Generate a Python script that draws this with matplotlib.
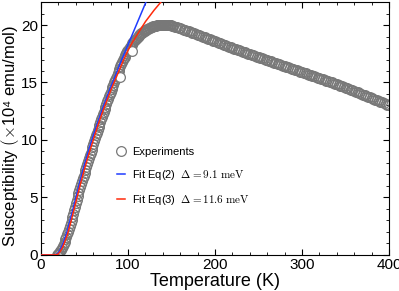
import matplotlib
matplotlib.use("Agg")
import matplotlib.pyplot as plt
from matplotlib.ticker import MultipleLocator

plt.rcParams['font.family'] = ['Liberation Sans', 'DejaVu Sans']
plt.rcParams['mathtext.fontset'] = 'cm'

# Experimental data: temperature grid (K) and susceptibility (x1e4 emu/mol)
T_exp = list(range(18, 150)) + list(range(150, 401, 2))
chi_exp = [
    0.0, 0.05, 0.1, 0.2, 0.3, 0.45, 0.6, 0.75, 0.95, 1.15,
    1.35, 1.55, 1.8, 2.0, 2.25, 2.5, 2.75, 3.0, 3.3, 3.6,
    3.9, 4.2, 4.5, 4.8, 5.1, 5.4, 5.65, 5.9, 6.15, 6.4,
    6.65, 6.9, 7.15, 7.4, 7.65, 7.9, 8.15, 8.4, 8.65, 8.9,
    9.15, 9.4, 9.65, 9.9, 10.15, 10.4, 10.6, 10.85, 11.1, 11.3,
    11.55, 11.8, 12.0, 12.25, 12.45, 12.7, 12.9, 13.1, 13.35, 13.55,
    13.8, 14.0, 14.2, 14.4, 14.6, 14.8, 15.0, 15.2, 15.4, 15.6,
    15.8, 16.0, 16.2, 16.4, 16.6, 16.8, 16.95, 17.1, 17.25, 17.4,
    17.55, 17.7, 17.8, 17.95, 18.05, 18.2, 18.3, 18.4, 18.5, 18.6,
    18.7, 18.8, 18.9, 18.98, 19.05, 19.13, 19.2, 19.27, 19.33, 19.39,
    19.45, 19.5, 19.55, 19.6, 19.65, 19.69, 19.72, 19.76, 19.8, 19.83,
    19.85, 19.88, 19.9, 19.92, 19.94, 19.96, 19.97, 19.98, 19.99, 20.0,
    20.0, 20.0, 20.0, 20.0, 20.0, 20.0, 20.0, 19.99, 19.98, 19.98,
    19.97, 19.96,
    # 150 .. 400 step 2
    19.95, 19.91, 19.86, 19.81, 19.77,
    19.72, 19.66, 19.61, 19.55, 19.5,
    19.44, 19.38, 19.33, 19.27, 19.22,
    19.16, 19.1, 19.05, 18.99, 18.94,
    18.88, 18.82, 18.76, 18.7, 18.65,
    18.59, 18.53, 18.47, 18.41, 18.36,
    18.3, 18.24, 18.18, 18.12, 18.07,
    18.01, 17.95, 17.9, 17.84, 17.79,
    17.73, 17.68, 17.62, 17.57, 17.51,
    17.46, 17.41, 17.36, 17.3, 17.25,
    17.2, 17.15, 17.1, 17.04, 16.99,
    16.94, 16.89, 16.84, 16.78, 16.73,
    16.68, 16.63, 16.58, 16.52, 16.47,
    16.42, 16.37, 16.32, 16.26, 16.21,
    16.16, 16.11, 16.06, 16.0, 15.95,
    15.9, 15.85, 15.8, 15.74, 15.69,
    15.64, 15.59, 15.54, 15.48, 15.43,
    15.38, 15.33, 15.28, 15.22, 15.17,
    15.12, 15.06, 15.01, 14.95, 14.9,
    14.84, 14.78, 14.73, 14.67, 14.61,
    14.55, 14.49, 14.43, 14.37, 14.31,
    14.25, 14.19, 14.13, 14.07, 14.01,
    13.95, 13.89, 13.83, 13.76, 13.7,
    13.64, 13.58, 13.51, 13.45, 13.38,
    13.32, 13.26, 13.19, 13.13, 13.06,
    13.0,
]
assert len(T_exp) == len(chi_exp)

# a few scattered experimental points slightly off the band
T_out = [91, 104]
chi_out = [15.5, 17.7]

# Fit Eq(2)
T_fit2 = [0, 10, 15, 18, 20, 22, 25, 28, 30, 35, 40, 45, 50, 55, 60, 65, 70,
          75, 80, 85, 90, 95, 100, 105, 110, 115, 120, 125]
chi_fit2 = [0, 0, 0, 0.05, 0.2, 0.45, 0.95, 1.6, 2.1, 3.5, 5.0, 6.5, 7.9,
            9.2, 10.4, 11.5, 12.6, 13.6, 14.6, 15.5, 16.5, 17.4, 18.3, 19.2,
            20.1, 21.0, 21.9, 22.8]
# Fit Eq(3)
T_fit3 = [0, 10, 15, 18, 20, 22, 25, 28, 30, 35, 40, 45, 50, 55, 60, 65, 70,
          75, 80, 85, 90, 95, 100, 105, 110, 115, 120, 125, 130, 135, 140, 145]
chi_fit3 = [0, 0, 0, 0.02, 0.1, 0.3, 0.7, 1.3, 1.7, 3.1, 4.6, 6.1, 7.5, 8.8,
            10.0, 11.2, 12.3, 13.3, 14.3, 15.2, 16.1, 17.0, 17.8, 18.5, 19.1,
            19.7, 20.3, 20.8, 21.3, 21.75, 22.2, 22.6]

fig = plt.figure(figsize=(3.99, 2.91), dpi=100)
ax = fig.add_axes([0.103, 0.124, 0.872, 0.869])

gray = '#787878'
ax.plot(T_exp, chi_exp, 'o', ms=7.0, mfc='none', mec=gray, mew=0.9,
        label='Experiments', zorder=2)
ax.plot(T_out, chi_out, 'o', ms=7.0, mfc='white', mec=gray, mew=0.9, zorder=2)
ax.plot(T_fit2, chi_fit2, '-', color='#1f3cff', lw=1.1,
        label=r'Fit Eq(2)  $\Delta = 9.1\ \mathrm{meV}$', zorder=3)
ax.plot(T_fit3, chi_fit3, '-', color='#ff2a0a', lw=1.1,
        label=r'Fit Eq(3)  $\Delta = 11.6\ \mathrm{meV}$', zorder=3)

ax.set_xlim(0, 400)
ax.set_ylim(0, 22)
ax.xaxis.set_major_locator(MultipleLocator(100))
ax.xaxis.set_minor_locator(MultipleLocator(20))
ax.yaxis.set_major_locator(MultipleLocator(5))
ax.yaxis.set_minor_locator(MultipleLocator(1))
ax.tick_params(which='both', direction='in', top=True, right=True,
               labelsize=11, pad=2)
ax.tick_params(which='major', length=4, width=0.8)
ax.tick_params(which='minor', length=2, width=0.6)

ax.set_xlabel('Temperature (K)', fontsize=13, labelpad=1)
ax.set_ylabel('Susceptibility $(\\times$10\u2074 emu/mol)', fontsize=12)
ax.yaxis.set_label_coords(-0.058, 0.47)

leg = ax.legend(loc='upper left', bbox_to_anchor=(0.205, 0.445), frameon=False,
                fontsize=8, handlelength=0.75, handletextpad=0.6,
                labelspacing=1.0, borderaxespad=0)

fig.savefig('out.png', dpi=100)
